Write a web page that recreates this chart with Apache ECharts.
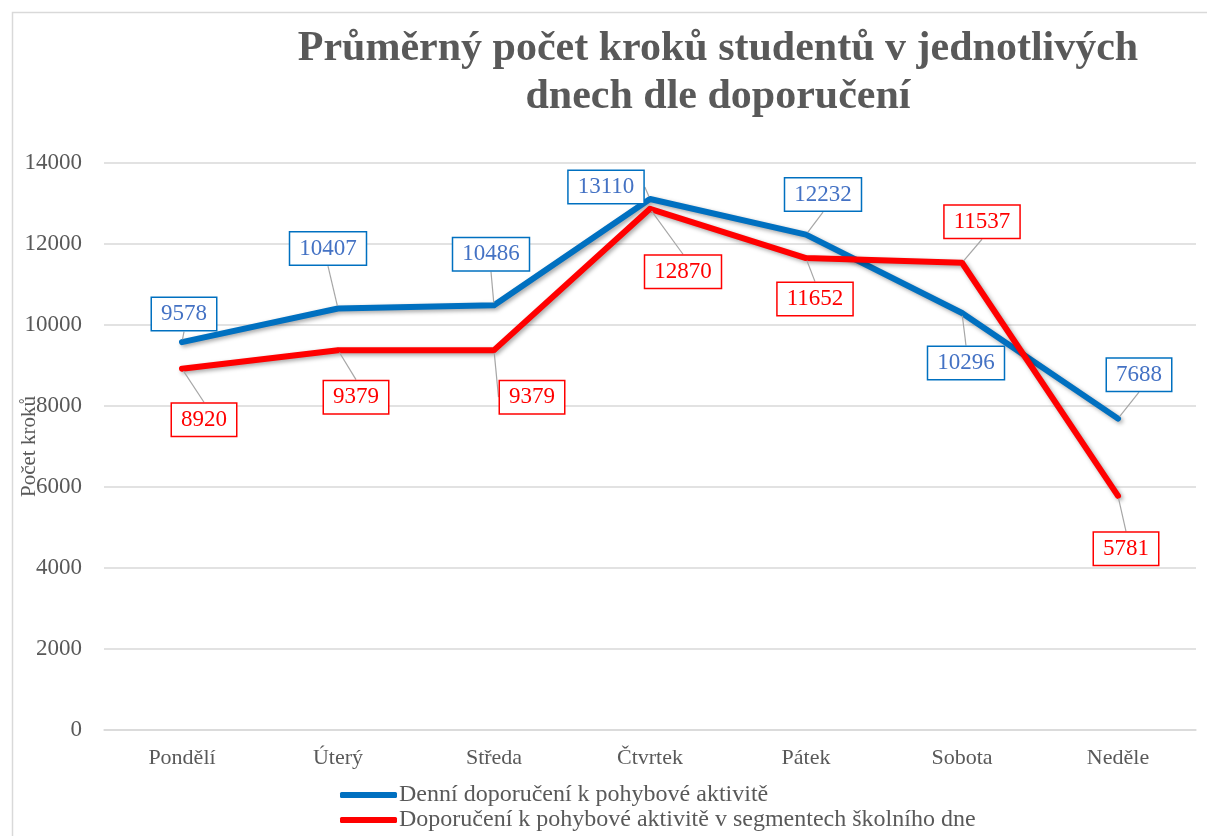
<!DOCTYPE html>
<html><head><meta charset="utf-8">
<script src="https://cdn.jsdelivr.net/npm/echarts@6/dist/echarts.min.js"></script>
<style>html,body{margin:0;padding:0;background:#fff}#c{width:1207px;height:836px}</style>
</head><body><div id="c"></div>
<script>
const categories = ['Pondělí','Úterý','Středa','Čtvrtek','Pátek','Sobota','Neděle'];
const seriesNames = ['Denní doporučení k pohybové aktivitě','Doporučení k pohybové aktivitě v segmentech školního dne'];
const dailyValues = [9578,10407,10486,13110,12232,10296,7688];
const segmentValues = [8920,9379,9379,12870,11652,11537,5781];
const yTicks = {min:0, max:14000, interval:2000};
// label offsets (px) relative to the point
const dailyLabelShift = [[2,-28],[-10,-60],[-3,-51],[-44,-12],[17,-40],[4,50],[21,-44]];
const segmentLabelShift = [[22,51],[18,47],[38,47],[33,63],[9,41],[20,-41],[8,53]];

const FONT = '"Liberation Serif","Times New Roman",serif';
const chart = echarts.init(document.getElementById('c'));
function mkSeries(name, data, color, textColor, shifts){
  return {
    name, type:'line', data,
    symbol:'circle', symbolSize:5, showSymbol:true,
    itemStyle:{color:color},
    lineStyle:{color:color, width:6, cap:'round', join:'round',
      shadowColor:'rgba(0,0,0,0.35)', shadowBlur:4, shadowOffsetX:2, shadowOffsetY:2},
    label:{show:true, position:'inside', fontFamily:FONT, fontSize:23, color:textColor,
      backgroundColor:'#fff', borderColor:color, borderWidth:1.5, padding:[5,9,4,9]},
    labelLine:{show:true, lineStyle:{color:'#a6a6a6', width:1.2}},
    labelLayout: function(p){ const s = shifts[p.dataIndex]; return {dx:s[0], dy:s[1]}; },
    emphasis:{disabled:true},
    animation:false
  };
}
chart.setOption({
  animation:false,
  graphic:[{type:'rect', left:10, top:10, shape:{width:1250, height:900}, style:{fill:'none', stroke:'#d9d9d9', lineWidth:1.5}, silent:true}],
  title:{
    text:'Průměrný počet kroků studentů v jednotlivých\ndnech dle doporučení',
    left:713, top:20, textAlign:'center',
    textStyle:{fontFamily:FONT, fontWeight:'bold', fontSize:42, lineHeight:48, color:'#595959'}
  },
  grid:{left:104, right:11, top:163, bottom:106, containLabel:false, outerBoundsMode:'none'},
  legend:{
    orient:'vertical', left:340, top:783, itemGap:1, itemWidth:57, itemHeight:6, padding:0,
    icon:'roundRect',
    textStyle:{fontFamily:FONT, fontSize:24, color:'#595959', padding:[0,0,0,-3]},
    data:seriesNames
  },
  xAxis:{
    type:'category', data:categories, boundaryGap:true,
    axisLine:{show:true, lineStyle:{color:'#d9d9d9', width:1.5}},
    axisTick:{show:false},
    axisLabel:{fontFamily:FONT, fontSize:22, color:'#595959', margin:17}
  },
  yAxis:{
    type:'value', min:yTicks.min, max:yTicks.max, interval:yTicks.interval,
    name:'Počet kroků', nameLocation:'middle', nameGap:64, nameRotate:90, nameMoveOverlap:false,
    nameTextStyle:{fontFamily:FONT, fontSize:21, color:'#595959'},
    axisLine:{show:false}, axisTick:{show:false},
    axisLabel:{fontFamily:FONT, fontSize:23, color:'#595959', margin:22, formatter:function(v){return String(v);}},
    splitLine:{lineStyle:{color:'#d9d9d9', width:1.5}}
  },
  series:[
    mkSeries(seriesNames[0], dailyValues, '#0070C0', '#4472C4', dailyLabelShift),
    mkSeries(seriesNames[1], segmentValues, '#FF0000', '#FF0000', segmentLabelShift)
  ]
});
</script></body></html>
